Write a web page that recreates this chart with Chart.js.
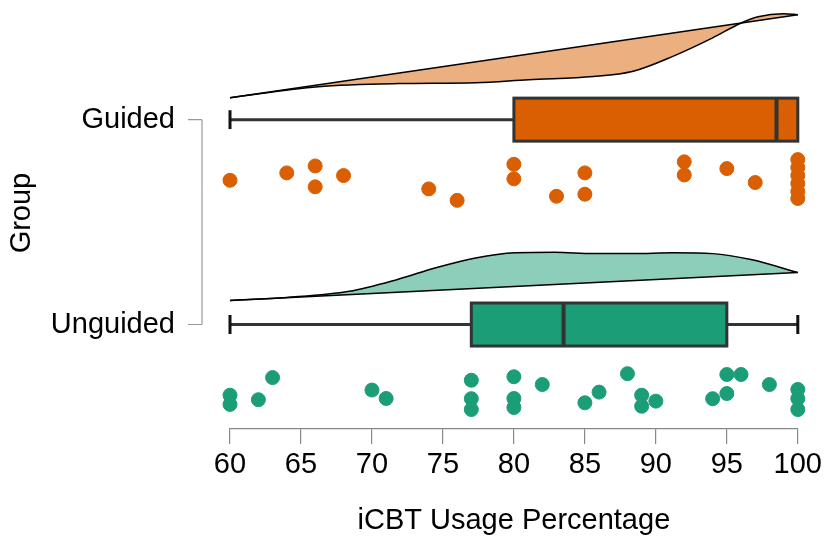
<!DOCTYPE html>
<html>
<head>
<meta charset="utf-8">
<script src="https://cdn.jsdelivr.net/npm/chart.js@4/dist/chart.umd.min.js"></script>
<style>
  html,body{margin:0;padding:0;background:#fff;}
  #wrap{width:826px;height:536px;}
</style>
</head>
<body>
<div id="wrap"><canvas id="c" width="826" height="536"></canvas></div>
<script>
// raincloud: density + box + jittered points per group
const groups = ["Guided", "Unguided"];
const groupPos = [2, 1];
const xTicks = [60, 65, 70, 75, 80, 85, 90, 95, 100];

// box stats: min, q1, median, q3, max
const guidedBox = [60, 80, 98.5, 100, 100];
const unguidedBox = [60, 77, 83.5, 95, 100];

// raw scores (x) and vertical jitter (y)
const guidedX = [60, 64, 66, 66, 68, 74, 76, 80, 80, 83, 85, 85, 92, 92, 95, 97, 100, 100, 100, 100, 100, 100];
const guidedY = [1.704, 1.740, 1.774, 1.672, 1.727, 1.662, 1.606, 1.782, 1.711, 1.626, 1.740, 1.636, 1.794, 1.730, 1.761, 1.693, 1.805, 1.766, 1.727, 1.688, 1.649, 1.615];
const unguidedX = [60, 60, 62, 63, 70, 71, 77, 77, 77, 80, 80, 80, 82, 85, 86, 88, 89, 89, 90, 94, 95, 95, 96, 98, 100, 100, 100];
const unguidedY = [0.655, 0.610, 0.633, 0.741, 0.680, 0.639, 0.728, 0.638, 0.585, 0.745, 0.639, 0.595, 0.707, 0.618, 0.670, 0.760, 0.655, 0.601, 0.626, 0.638, 0.756, 0.663, 0.756, 0.707, 0.683, 0.638, 0.585];

// half-density outlines (curve + slanted base line)
const guidedDensX = [60, 66.2, 71.9, 77.3, 81.05, 85.6, 88.4, 91.2, 94.0, 95.9, 97.2, 99.0, 100];
const guidedDensY = [2.107, 2.161, 2.176, 2.180, 2.195, 2.210, 2.236, 2.309, 2.399, 2.468, 2.502, 2.517, 2.512];
const guidedBaseX = [60, 100];
const guidedBaseY = [2.107, 2.512];
const unguidedDensX = [60, 64, 68.4, 71.8, 74.5, 77.3, 80.1, 82.9, 85.6, 88.4, 91.2, 94.0, 96.7, 100];
const unguidedDensY = [1.117, 1.132, 1.162, 1.220, 1.277, 1.325, 1.350, 1.353, 1.346, 1.346, 1.350, 1.346, 1.317, 1.254];
const unguidedBaseX = [60, 100];
const unguidedBaseY = [1.117, 1.254];

const ORANGE = "#d95f02", ORANGE_L = "#ecaf80";
const GREEN = "#1b9e77", GREEN_L = "#8dcebb";
const FONT = "'Liberation Sans', Arial, sans-serif";
const FSIZE = 29;

const zip = (xs, ys) => xs.map((x, i) => ({x, y: ys[i]}));

const boxes = [
  {pos: groupPos[0], stats: guidedBox, color: ORANGE},
  {pos: groupPos[1], stats: unguidedBox, color: GREEN},
];

const boxPlugin = {
  id: "boxes",
  afterDatasetsDraw(chart){
    const {ctx, scales:{x, y}} = chart;
    const half = 0.105, cap = 0.046;
    ctx.save();
    boxes.forEach(b => {
      const [mn, q1, md, q3, mx] = b.stats;
      const yc = y.getPixelForValue(b.pos);
      const yt = y.getPixelForValue(b.pos + half), yb = y.getPixelForValue(b.pos - half);
      ctx.strokeStyle = "#333"; ctx.lineWidth = 3;
      // whiskers
      ctx.beginPath();
      ctx.moveTo(x.getPixelForValue(mn), yc); ctx.lineTo(x.getPixelForValue(q1), yc);
      ctx.moveTo(x.getPixelForValue(q3), yc); ctx.lineTo(x.getPixelForValue(mx), yc);
      ctx.stroke();
      // caps
      ctx.strokeStyle = "#111";
      ctx.beginPath();
      [mn, mx].forEach(v => {
        if (v === q1 || v === q3) return;
        const px = x.getPixelForValue(v);
        ctx.moveTo(px, y.getPixelForValue(b.pos + cap)); ctx.lineTo(px, y.getPixelForValue(b.pos - cap));
      });
      ctx.stroke();
      // box
      const x1 = x.getPixelForValue(q1), x2 = x.getPixelForValue(q3);
      ctx.fillStyle = b.color;
      ctx.fillRect(x1, yt, x2 - x1, yb - yt);
      ctx.strokeStyle = "#333"; ctx.lineWidth = 3;
      ctx.strokeRect(x1, yt, x2 - x1, yb - yt);
      // median
      ctx.lineWidth = 4;
      ctx.beginPath();
      ctx.moveTo(x.getPixelForValue(md), yt); ctx.lineTo(x.getPixelForValue(md), yb);
      ctx.stroke();
    });
    ctx.restore();
  }
};

// bracket-style group axis on the left
const groupAxis = {
  id: "groupAxis",
  afterDraw(chart){
    const {ctx, chartArea, scales:{y}} = chart;
    const lx = chartArea.left - 28, tx = chartArea.left - 42;
    const ys = groupPos.map(p => y.getPixelForValue(p));
    ctx.save();
    ctx.strokeStyle = "#999"; ctx.lineWidth = 1.2;
    ctx.beginPath();
    ctx.moveTo(lx, Math.min(...ys)); ctx.lineTo(lx, Math.max(...ys));
    ys.forEach(py => { ctx.moveTo(lx, py); ctx.lineTo(tx, py); });
    ctx.stroke();
    ctx.fillStyle = "#000";
    ctx.font = FSIZE + "px " + FONT;
    ctx.textAlign = "right"; ctx.textBaseline = "middle";
    groups.forEach((g, i) => ctx.fillText(g, chartArea.left - 55, ys[i]));
    ctx.translate(22, (ys[0] + ys[1]) / 2 - 9);
    ctx.rotate(-Math.PI / 2);
    ctx.textAlign = "center";
    ctx.fillText("Group", 0, 0);
    ctx.restore();
  }
};

const lineDs = (data, extra) => Object.assign({
  type: "line", data, pointRadius: 0, borderColor: "#000", borderWidth: 1.5,
  cubicInterpolationMode: "monotone", fill: false, order: 2, clip: false
}, extra);

new Chart(document.getElementById("c"), {
  type: "scatter",
  data: {
    datasets: [
      lineDs(zip(guidedBaseX, guidedBaseY)),
      lineDs(zip(guidedDensX, guidedDensY), {fill: "-1", backgroundColor: ORANGE_L}),
      lineDs(zip(unguidedBaseX, unguidedBaseY)),
      lineDs(zip(unguidedDensX, unguidedDensY), {fill: "-1", backgroundColor: GREEN_L}),
      {label: "Guided", data: zip(guidedX, guidedY), backgroundColor: ORANGE, borderColor: ORANGE, pointRadius: 7, order: 1, clip: false},
      {label: "Unguided", data: zip(unguidedX, unguidedY), backgroundColor: GREEN, borderColor: GREEN, pointRadius: 7, order: 1, clip: false},
    ]
  },
  options: {
    responsive: false,
    animation: false,
    layout: {padding: {left: 230, right: 26, top: 9, bottom: 0}},
    plugins: {legend: {display: false}, tooltip: {enabled: false}},
    scales: {
      x: {
        type: "linear", min: 60, max: 100,
        afterBuildTicks: s => { s.ticks = xTicks.map(v => ({value: v})); },
        afterFit: s => { s.height = 107; },
        grid: {drawOnChartArea: false, drawTicks: true, tickLength: 15, color: "#888", lineWidth: 1.2},
        border: {display: true, color: "#888", width: 1.2},
        ticks: {color: "#000", padding: 4, font: {family: FONT, size: FSIZE}, maxRotation: 0},
        title: {display: true, text: "iCBT Usage Percentage", color: "#000", font: {family: FONT, size: FSIZE, lineHeight: 1.05}, padding: {top: 0, bottom: 0}}
      },
      y: {type: "linear", min: 0.49, max: 2.54, display: false}
    }
  },
  plugins: [boxPlugin, groupAxis]
});
</script>
</body>
</html>
